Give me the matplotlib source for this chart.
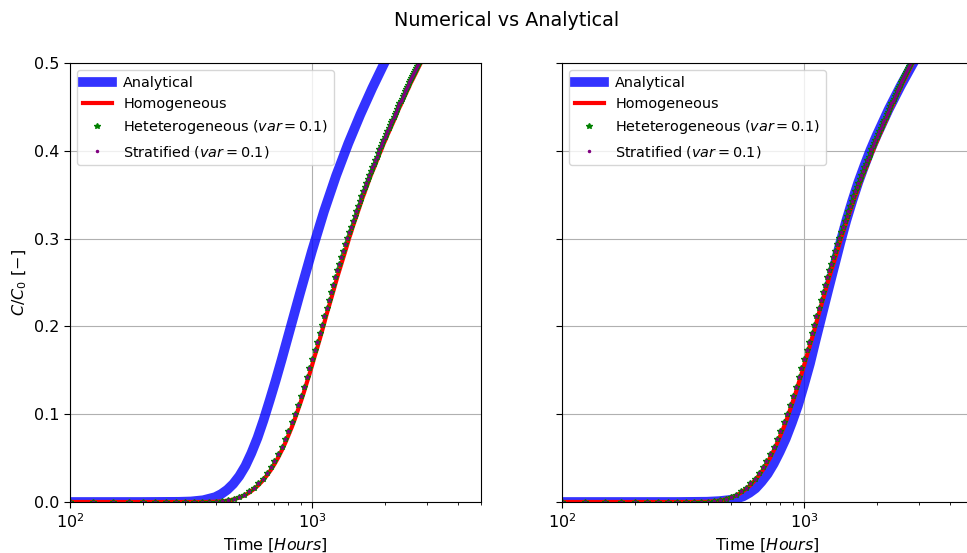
import numpy as np
import matplotlib
matplotlib.use("Agg")
import matplotlib.pyplot as plt

# numerical output times [hours], one value every 25 h (100 ... 3000)
t_num = np.arange(100, 3001, 25)

c_homog = [
    0, 0, 0, 0, 0, 0, 0, 0, 0, 0, 0,
    0.0001, 0.0003, 0.0008, 0.0016, 0.0030, 0.0050, 0.0074, 0.0106, 0.0146, 0.0190,
    0.0242, 0.0299, 0.0361, 0.0431, 0.0505, 0.0586, 0.0670, 0.0760, 0.0850, 0.0945,
    0.1046, 0.1143, 0.1244, 0.1349, 0.1448, 0.1550, 0.1654, 0.1749, 0.1845, 0.1942,
    0.2040, 0.2137, 0.2225, 0.2312, 0.2398, 0.2484, 0.2567, 0.2642, 0.2716, 0.2789,
    0.2861, 0.2932, 0.3005, 0.3066, 0.3134, 0.3193, 0.3250, 0.3308, 0.3364, 0.3422,
    0.3476, 0.3522, 0.3575, 0.3620, 0.3671, 0.3715, 0.3758, 0.3796, 0.3837, 0.3879,
    0.3920, 0.3961, 0.3995, 0.4034, 0.4074, 0.4107, 0.4139, 0.4177, 0.4209, 0.4241,
    0.4273, 0.4304, 0.4335, 0.4366, 0.4397, 0.4432, 0.4463, 0.4493, 0.4517, 0.4547,
    0.4577, 0.4600, 0.4630, 0.4653, 0.4683, 0.4706, 0.4732, 0.4761, 0.4784, 0.4806,
    0.4829, 0.4852, 0.4874, 0.4897, 0.4919, 0.4942, 0.4964, 0.4986, 0.5006, 0.5028,
    0.5050, 0.5066, 0.5088, 0.5110, 0.5126, 0.5148,
]

c_het = [
    0, 0, 0, 0, 0, 0, 0, 0, 0, 0, 0,
    0.0001, 0.0004, 0.0009, 0.0018, 0.0037, 0.0058, 0.0085, 0.0120, 0.0164, 0.0211,
    0.0267, 0.0328, 0.0394, 0.0468, 0.0547, 0.0632, 0.0720, 0.0814, 0.0907, 0.1006,
    0.1110, 0.1209, 0.1313, 0.1420, 0.1521, 0.1625, 0.1730, 0.1826, 0.1923, 0.2020,
    0.2118, 0.2215, 0.2302, 0.2389, 0.2474, 0.2560, 0.2642, 0.2716, 0.2790, 0.2862,
    0.2933, 0.3003, 0.3075, 0.3135, 0.3202, 0.3260, 0.3316, 0.3373, 0.3428, 0.3485,
    0.3538, 0.3584, 0.3636, 0.3680, 0.3730, 0.3773, 0.3816, 0.3853, 0.3893, 0.3935,
    0.3975, 0.4015, 0.4049, 0.4088, 0.4127, 0.4159, 0.4189, 0.4227, 0.4259, 0.4291,
    0.4323, 0.4353, 0.4384, 0.4415, 0.4446, 0.4480, 0.4511, 0.4541, 0.4565, 0.4595,
    0.4625, 0.4648, 0.4678, 0.4701, 0.4731, 0.4754, 0.4778, 0.4807, 0.4830, 0.4852,
    0.4875, 0.4898, 0.4920, 0.4943, 0.4965, 0.4988, 0.5010, 0.5032, 0.5050, 0.5072,
    0.5094, 0.5110, 0.5132, 0.5154, 0.5170, 0.5192,
]

# stratified points sit on top of the heterogeneous ones at this resolution
c_strat = list(c_het)

# analytical solution, left panel
t_ana_1 = [100, 200, 282, 316, 355, 398, 422, 447, 473, 501, 531, 562, 596,
           631, 668, 708, 750, 794, 891, 1000, 1122, 1259, 1413, 1585, 1778,
           1995, 2239]
c_ana_1 = [0, 0, 0.0002, 0.0006, 0.002, 0.0055, 0.0091, 0.014, 0.0206,
           0.0295, 0.0411, 0.0557, 0.0732, 0.0932, 0.1151, 0.1382, 0.1623,
           0.1870, 0.2370, 0.2857, 0.3310, 0.3717, 0.4082, 0.4412, 0.4717,
           0.5002, 0.5260]

# analytical solution, right panel
t_ana_2 = [100, 300, 398, 447, 501, 531, 562, 596, 631, 668, 708, 750, 794,
           841, 891, 944, 1000, 1059, 1122, 1259, 1413, 1496, 1585, 1679,
           1778, 1884, 1995, 2239, 2512, 2818, 3162]
c_ana_2 = [0, 0, 0.0003, 0.001, 0.0025, 0.0042, 0.0065, 0.0105, 0.0155,
           0.0230, 0.032, 0.0435, 0.057, 0.072, 0.090, 0.1095, 0.133, 0.1575,
           0.186, 0.241, 0.295, 0.3202, 0.343, 0.3643, 0.383, 0.401, 0.417,
           0.447, 0.474, 0.499, 0.522]

assert len(c_homog) == len(t_num) == len(c_het)
assert len(t_ana_1) == len(c_ana_1) and len(t_ana_2) == len(c_ana_2)

plt.rcParams["font.size"] = 11.5
plt.rcParams["xtick.major.size"] = 4
plt.rcParams["ytick.major.size"] = 4
plt.rcParams["xtick.minor.size"] = 2.3

W, H = 967, 553
fig = plt.figure(figsize=(W / 100, H / 100), dpi=100)
ax1 = fig.add_axes([70 / W, 1 - 502 / H, 411 / W, 439 / H])
ax2 = fig.add_axes([562 / W, 1 - 502 / H, 411 / W, 439 / H], sharey=ax1)

panels = [(ax1, t_ana_1, c_ana_1), (ax2, t_ana_2, c_ana_2)]
for ax, ta, ca in panels:
    ax.plot(ta, ca, color="blue", alpha=0.8, lw=7, label="Analytical")
    ax.plot(t_num, c_homog, color="red", lw=3, label="Homogeneous")
    ax.plot(t_num, c_het, "*", color="green", ms=4,
            label=r"Heteterogeneous ($var=0.1$)")
    ax.plot(t_num, c_strat, ".", color="purple", ms=3,
            label=r"Stratified ($var=0.1$)")
    ax.set_xscale("log")
    ax.set_xlim(100, 5000)
    ax.set_ylim(0, 0.5)
    ax.grid(True)
    ax.set_xlabel(r"Time [$Hours$]")
    ax.legend(loc="upper left", fontsize=10.35)

ax1.set_ylabel(r"$C/C_0$ $[-]$")
plt.setp(ax2.get_yticklabels(), visible=False)
fig.suptitle("Numerical vs Analytical", fontsize=13.8, x=507 / W)

fig.savefig("out.png", dpi=100)
